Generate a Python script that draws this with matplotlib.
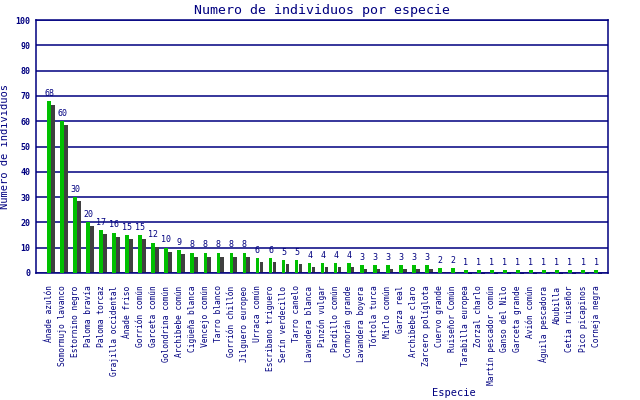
import numpy as np
import matplotlib
matplotlib.use("Agg")
import matplotlib.pyplot as plt

especies = [
    "Ánade azulón", "Somormujo lavanco", "Estornino negro", "Paloma bravía",
    "Paloma torcaz", "Grajilla occidental", "Ánade friso", "Gorrión común",
    "Garceta común", "Golondrina común", "Archibebe común", "Cigüeña blanca",
    "Vencejo común", "Tarro blanco", "Gorrión chillón", "Jilguero europeo",
    "Urraca común", "Escribano triguero", "Serín verdecillo", "Tarro canelo",
    "Lavandera blanca", "Pinzón vulgar", "Pardillo común", "Cormorán grande",
    "Lavandera boyera", "Tórtola turca", "Mirlo común", "Garza real",
    "Archibebe claro", "Zarcero políglota", "Cuervo grande", "Ruiseñor Común",
    "Tarabilla europea", "Zorzal charlo", "Martín pescador común", "Ganso del Nilo",
    "Garceta grande", "Avión común", "Águila pescadora", "Abubilla",
    "Cetia ruiseñor", "Pico picapinos", "Corneja negra",
]
individuos = [
    68, 60, 30, 20, 17, 16, 15, 15, 12, 10, 9, 8, 8, 8, 8, 8,
    6, 6, 5, 5, 4, 4, 4, 4, 3, 3, 3, 3, 3, 3, 2, 2,
    1, 1, 1, 1, 1, 1, 1, 1, 1, 1, 1,
]

navy = "#000080"
verde = "#00c000"
sombra = "#404040"
mono = "DejaVu Sans Mono"

fig = plt.figure(figsize=(6.4, 4.0), dpi=100)
ax = fig.add_axes([0.05625, 0.3175, 0.89375, 0.6325])

x = np.arange(len(especies))
vals = np.array(individuos, dtype=float)

# sombra desplazada a la derecha y hacia abajo
ax.bar(x + 0.30, vals - 1.58, width=0.29, color=sombra, zorder=2, clip_on=False)
ax.bar(x, vals, width=0.29, color=verde, zorder=3)

for xi, v in zip(x, individuos):
    ax.text(xi, v + 1.3, str(v), ha="center", va="bottom", fontsize=6,
            family=mono, color=navy, zorder=4)

ax.set_xlim(-1.01, 42.92)
ax.set_ylim(0, 100)
ax.set_yticks(range(0, 101, 10))
ax.yaxis.grid(True, color=navy, linewidth=1.1, zorder=1)
ax.set_axisbelow(True)

ax.set_xticks(x)
ax.set_xticklabels(especies, rotation=90, fontsize=5.7, family=mono, color=navy)
ax.tick_params(axis="x", length=0, pad=9)
ax.tick_params(axis="y", length=0, pad=4, labelsize=6, labelcolor=navy)
for lab in ax.get_yticklabels():
    lab.set_family(mono)
    lab.set_fontweight("bold")

for s in ax.spines.values():
    s.set_color(navy)
    s.set_linewidth(1.1)

ax.set_title("Numero de individuos por especie", fontsize=9.5, family=mono,
             color=navy, pad=4)
ax.set_ylabel("Numero de individuos", fontsize=7.5, family=mono, color=navy)
ax.yaxis.set_label_coords(-0.045, 0.5)
ax.set_xlabel("Especie", fontsize=7.5, family=mono, color=navy, va="center")
ax.xaxis.set_label_coords(0.73, -0.475)

fig.savefig("out.png", dpi=100)
